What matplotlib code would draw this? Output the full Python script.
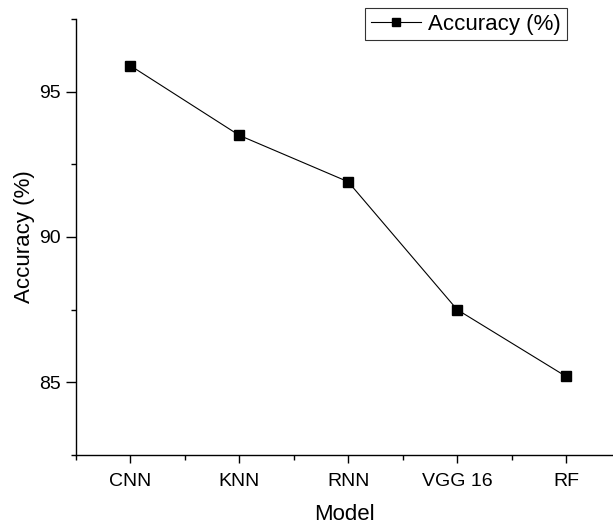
import numpy as np
import matplotlib
matplotlib.use('Agg')
import matplotlib.pyplot as plt
from matplotlib.ticker import MultipleLocator

plt.rcParams['font.family'] = ['Liberation Sans', 'DejaVu Sans']

models = ['CNN', 'KNN', 'RNN', 'VGG 16', 'RF']
accuracy = [95.9, 93.5, 91.9, 87.5, 85.2]

x = np.arange(1, len(models) + 1)

fig = plt.figure(figsize=(6.13, 5.29), dpi=100)
ax = fig.add_axes([0.1235, 0.140, 1.0 - 0.1235, 0.824])

ax.plot(x, accuracy, color='black', lw=0.8, marker='s', markersize=6.5,
        markerfacecolor='black', markeredgecolor='black', label='Accuracy (%)')

ax.set_xlim(0.5, 5.43)
ax.set_ylim(82.5, 97.5)
ax.set_xticks(x)
ax.set_xticklabels(models)
ax.set_xticks(np.arange(0.5, 5.5, 1.0), minor=True)
ax.yaxis.set_major_locator(MultipleLocator(5))
ax.yaxis.set_minor_locator(MultipleLocator(2.5))

for s in ['top', 'right']:
    ax.spines[s].set_visible(False)
for s in ['left', 'bottom']:
    ax.spines[s].set_linewidth(1.0)

ax.tick_params(which='major', direction='out', length=7, width=1.0, labelsize=14, pad=4)
ax.tick_params(which='minor', direction='out', length=3.5, width=1.0)
ax.tick_params(axis='x', which='major', length=6, pad=7)

ax.set_xlabel('Model', fontsize=16, labelpad=10)
ax.set_ylabel('Accuracy (%)', fontsize=16, labelpad=3)

leg = fig.legend(loc='upper left', bbox_to_anchor=(365 / 613, 1 - 8 / 529),
                 fontsize=16, frameon=True, fancybox=False, handlelength=2.25,
                 borderpad=0.25, handletextpad=0.35, borderaxespad=0,
                 markerscale=0.8)
leg.get_frame().set_edgecolor('black')
leg.get_frame().set_linewidth(0.8)

fig.savefig('out.png', dpi=100)
